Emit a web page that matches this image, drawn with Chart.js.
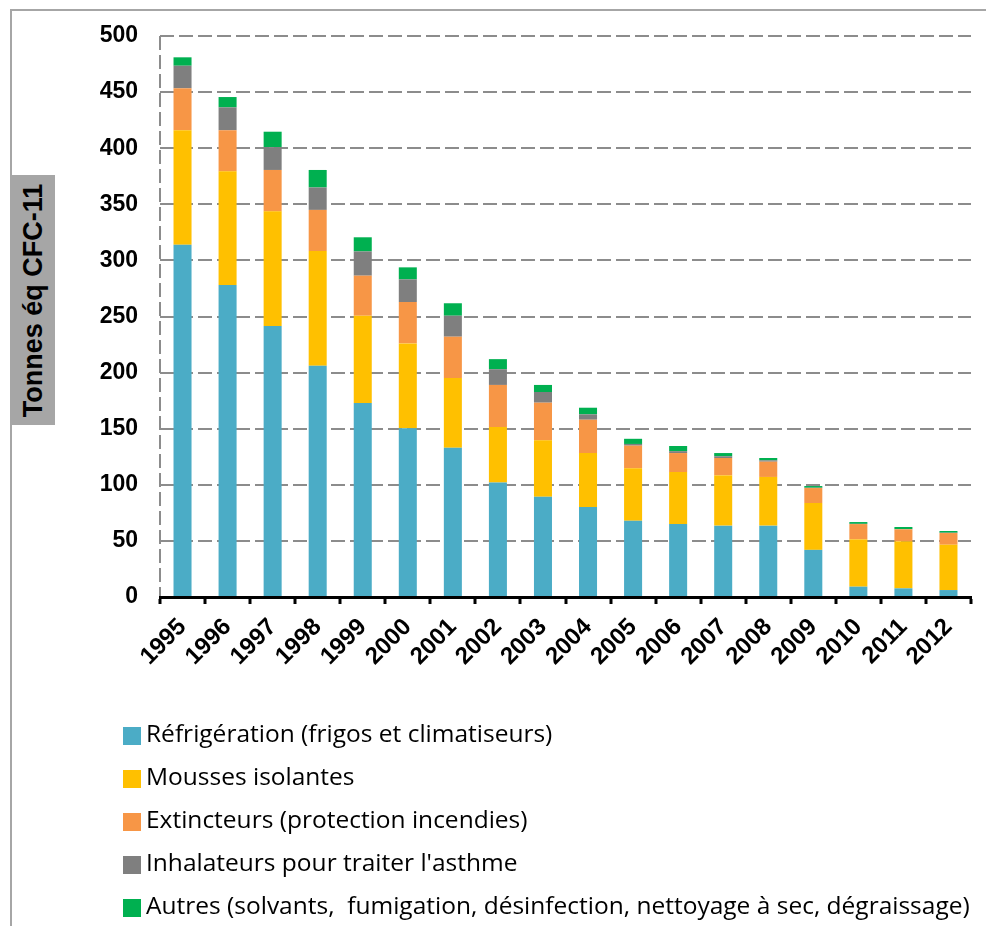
<!DOCTYPE html>
<html lang="fr">
<head>
<meta charset="utf-8">
<title>Émissions de substances appauvrissant la couche d'ozone</title>
<script src="https://cdn.jsdelivr.net/npm/chart.js@4"></script>
<style>
  html, body { margin: 0; padding: 0; background: #fff; overflow: hidden; }
  #wrap { position: relative; width: 986px; height: 926px; }
  #frame {
    position: absolute; left: 10px; top: 9px; width: 1000px; height: 1000px;
    border-left: 2px solid #a6a6a6; border-top: 2px solid #a6a6a6;
  }
  #chart { position: absolute; left: 0; top: 0; }
  #ytitle {
    position: absolute; left: 12px; top: 175px; width: 43px; height: 250px;
    background: #a6a6a6; display: flex; align-items: center; justify-content: center;
  }
  #ytitle span {
    transform: rotate(-90deg); white-space: nowrap;
    font: bold 27px "Liberation Sans", Arial, sans-serif; color: #000;
  }
  #legend { position: absolute; left: 123px; top: 723px; margin: 0; padding: 0; list-style: none; }
  #legend li {
    height: 43px; display: flex; align-items: flex-start;
    font: 24.5px "Open Sans", sans-serif; color: #000; white-space: nowrap;
  }
  #legend li i { display: inline-block; width: 18px; height: 18px; margin: 4px 5px 0 0; flex: none; }
  #legend li b { font-weight: normal; line-height: 26px; margin-top: -3px; white-space: pre; }
</style>
</head>
<body>
<div id="wrap">
  <div id="frame"></div>
  <canvas id="chart" width="986" height="926"></canvas>
  <div id="ytitle"><span>Tonnes éq CFC-11</span></div>
  <ul id="legend"></ul>
</div>
<script>
const years = ['1995', '1996', '1997', '1998', '1999', '2000', '2001', '2002', '2003',
  '2004', '2005', '2006', '2007', '2008', '2009', '2010', '2011', '2012'];

// tonnes équivalent CFC-11 par secteur
const refrigeration = [314, 278, 241.5, 206, 173, 150.3, 133, 102, 89.4, 80.2, 68, 65, 63.6, 63.6, 42, 9.2, 7.7, 6.2];
const mousses = [102, 101.4, 102.2, 102.4, 77.7, 75.7, 62.2, 49.5, 50.2, 48.1, 46.7, 46.4, 44.8, 43.4, 41.8, 42.2, 41.9, 40.4];
const extincteurs = [37.4, 36.6, 36.9, 36.6, 35.7, 36.9, 36.8, 37.5, 33.6, 29.7, 20.2, 16.9, 15.5, 13.6, 13.3, 13.6, 10.7, 10.4];
const inhalateurs = [20.1, 20.4, 20.4, 20, 21.6, 20.2, 18.7, 14, 9.5, 4.8, 1.5, 1.7, 1.5, 1.2, 0.3, 0.2, 0.3, 0.3];
const autres = [7.5, 9.2, 13.7, 15.6, 12.6, 10.7, 11.1, 9, 6.3, 5.9, 4.6, 4.6, 2.9, 2.1, 1.5, 1.6, 1.8, 1.5];

const yTicks = { min: 0, max: 500, step: 50 };

const series = [
  { label: 'Réfrigération (frigos et climatiseurs)', data: refrigeration, color: '#4bacc6' },
  { label: 'Mousses isolantes', data: mousses, color: '#ffc000' },
  { label: 'Extincteurs (protection incendies)', data: extincteurs, color: '#f79646' },
  { label: "Inhalateurs pour traiter l'asthme", data: inhalateurs, color: '#7f7f7f' },
  { label: 'Autres (solvants,  fumigation, désinfection, nettoyage à sec, dégraissage)', data: autres, color: '#00b050' }
];

const boldFont = { family: '"Liberation Sans", Arial, sans-serif', size: 23, weight: 'bold' };

const chart = new Chart(document.getElementById('chart'), {
  type: 'bar',
  data: {
    labels: years,
    datasets: series.map((s) => ({
      label: s.label,
      data: s.data,
      backgroundColor: s.color,
      borderWidth: 0,
      categoryPercentage: 1,
      barPercentage: 0.4
    }))
  },
  options: {
    responsive: false,
    animation: false,
    devicePixelRatio: 1,
    layout: { padding: { left: 0, right: 15, top: 36, bottom: 0 } },
    plugins: { legend: { display: false }, tooltip: { enabled: false } },
    scales: {
      x: {
        stacked: true,
        afterFit: (scale) => { scale.height = 329; },
        grid: {
          offset: true,
          drawOnChartArea: true,
          // only the left edge of the plot gets a dashed vertical line
          color: (ctx) => (ctx.index === 0 ? '#8c8c8c' : 'rgba(0,0,0,0)'),
          lineWidth: 2,
          tickColor: '#000',
          tickWidth: 3,
          tickLength: 7
        },
        border: { display: true, color: '#000', width: 3, dash: [14, 5] },
        ticks: {
          color: '#000',
          font: { ...boldFont, size: 24 },
          minRotation: 45,
          maxRotation: 45,
          autoSkip: false,
          padding: 9
        }
      },
      y: {
        stacked: true,
        min: yTicks.min,
        max: yTicks.max,
        afterFit: (scale) => { scale.width = 160; },
        grid: { color: '#8c8c8c', lineWidth: 2, drawTicks: false },
        border: { display: false, dash: [14, 5] },
        ticks: {
          stepSize: yTicks.step,
          color: '#000',
          font: boldFont,
          padding: 22
        }
      }
    }
  }
});

// legend as a single column under the chart
const legend = document.getElementById('legend');
chart.data.datasets.forEach((ds) => {
  const li = document.createElement('li');
  const sw = document.createElement('i');
  sw.style.background = ds.backgroundColor;
  const txt = document.createElement('b');
  txt.textContent = ds.label;
  li.appendChild(sw);
  li.appendChild(txt);
  legend.appendChild(li);
});
</script>
</body>
</html>
